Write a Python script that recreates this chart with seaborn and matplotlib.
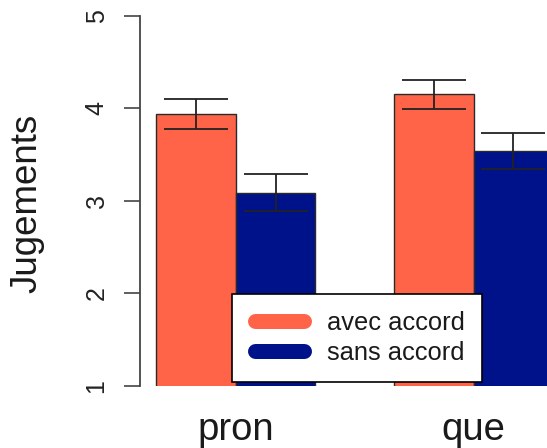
import pandas as pd
import numpy as np
import matplotlib
matplotlib.use("Agg")
import matplotlib.pyplot as plt
import seaborn as sns
from matplotlib.lines import Line2D
from matplotlib.legend_handler import HandlerLine2D

# Données
conditions = ["pron", "que"]
accords = ["avec accord", "sans accord"]
moyennes_avec = [3.94, 4.15]
moyennes_sans = [3.09, 3.54]
erreurs_avec = [0.16, 0.16]
erreurs_sans = [0.195, 0.195]
ticks_y = [1, 2, 3, 4, 5]

couleurs = ["#FF6448", "#00128A"]

df = pd.DataFrame({
    "condition": conditions * 2,
    "accord": [accords[0]] * 2 + [accords[1]] * 2,
    "jugement": moyennes_avec + moyennes_sans,
    "erreur": erreurs_avec + erreurs_sans,
})

##########################################################

sns.set_style("white")
plt.rcParams["font.family"] = ["Liberation Sans", "DejaVu Sans"]

fig = plt.figure(figsize=(5.47, 4.48), dpi=100)
ax = fig.add_axes([140 / 547, 1 - 386 / 448, 1 - 140 / 547, (386 - 15.7) / 448])

sns.barplot(data=df, x="condition", y="jugement", hue="accord",
            palette=couleurs, width=0.67, gap=0, edgecolor="#2a2a2a",
            linewidth=1.0, saturation=1, legend=False, ax=ax)

# barres d'erreur
for cont, lvl in zip(ax.containers, accords):
    sub = df[df["accord"] == lvl]
    for bar, err in zip(cont, sub["erreur"]):
        xc = bar.get_x() + bar.get_width() / 2
        ax.errorbar(xc, bar.get_height(), yerr=err, fmt="none",
                    ecolor="#222222", elinewidth=1.3, capsize=23,
                    capthick=1.3, zorder=5)

ax.set_ylim(1, 5)
ax.set_xlim(-0.403, 1.309)
ax.set_yticks(ticks_y)
ax.set_ylabel("Jugements", fontsize=26.5, color="#1a1a1a")
ax.yaxis.set_label_coords(-0.236, 0.493)
ax.set_xlabel("")

for s in ["top", "right", "bottom"]:
    ax.spines[s].set_visible(False)
ax.spines["left"].set_color("#444444")
ax.spines["left"].set_linewidth(1.3)

ax.tick_params(axis="y", length=11.3, width=1.2, color="#444444",
               pad=11.3, labelsize=18, labelcolor="#222222", left=True)
for lab in ax.get_yticklabels():
    lab.set_rotation(90)
    lab.set_va("center")
ax.tick_params(axis="x", length=0, pad=18.7, labelsize=27.5, labelcolor="#1a1a1a")

# légende
poignees = [Line2D([0, 1], [0, 0], color=c, lw=10.8, solid_capstyle="round")
            for c in couleurs]
leg = ax.legend(poignees, accords, loc="upper left",
                bbox_to_anchor=(231.7 / 547, 1 - 293.7 / 448),
                bbox_transform=fig.transFigure, borderaxespad=0,
                fontsize=18.4, handlelength=2.4, handletextpad=0.66,
                borderpad=0.67, labelspacing=0.24, fancybox=False,
                framealpha=1, edgecolor="black",
                handler_map={Line2D: HandlerLine2D(marker_pad=0.24, numpoints=2)})
leg.get_frame().set_linewidth(1.2)
for t in leg.get_texts():
    t.set_color("#1a1a1a")

fig.savefig("out.png", dpi=100)
